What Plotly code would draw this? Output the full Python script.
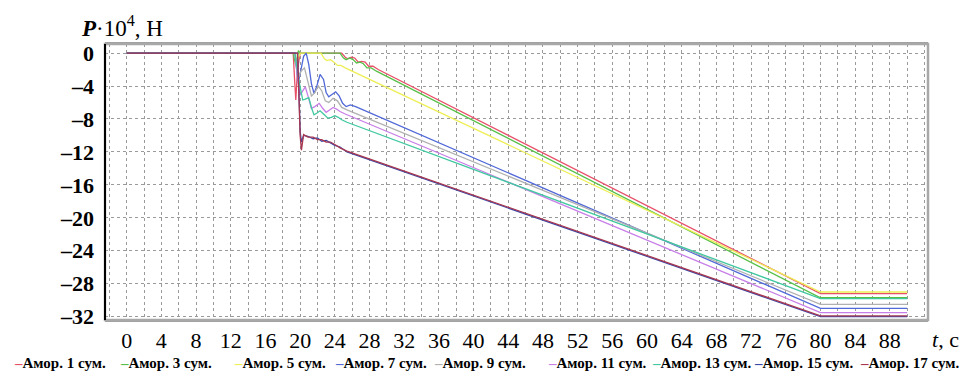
import plotly.graph_objects as go

# ---------------- data ----------------
names = ["Амор. 1 сум.", "Амор. 3 сум.", "Амор. 5 сум.", "Амор. 7 сум.", "Амор. 9 сум.",
         "Амор. 11 сум.", "Амор. 13 сум.", "Амор. 15 сум.", "Амор. 17 сум."]
colors = ["#e8506a", "#58c048", "#eeee55", "#5068d8", "#b0b0b0",
          "#c87ee8", "#40c8a0", "#3848a8", "#a83850"]

t1 = [0, 19.2, 19.35, 19.5, 19.7, 20.0, 24.8, 25.2, 25.5, 25.9, 26.3, 26.7, 27.1, 27.5, 27.9, 28.4, 29.0, 80, 90]
p1 = [0, 0, -3.0, -5.7, -2.0, 0, 0, -0.5, -0.7, -0.5, -0.6, -1.1, -1.0, -1.1, -1.6, -1.6, -2.0, -29.2, -29.2]

t3 = [0, 19.2, 19.5, 19.8, 20.0, 24.6, 25.0, 25.3, 25.7, 26.1, 26.5, 26.9, 27.3, 27.7, 28.2, 28.8, 80, 90]
p3 = [0, 0, -1.5, 0.3, 0, 0, -0.6, -0.8, -0.6, -0.8, -1.2, -1.1, -1.3, -1.8, -1.8, -2.2, -29.7, -29.7]

t5 = [0, 19.3, 19.6, 20.0, 22.4, 22.8, 23.1, 23.5, 23.9, 24.3, 24.7, 25.2, 80, 90]
p5 = [0, 0, -1.2, 0, 0, -0.7, -0.9, -0.8, -1.1, -1.5, -1.5, -1.8, -29.0, -29.0]

t7 = [0, 19.4, 19.6, 19.8, 20.1, 20.4, 20.7, 21.0, 21.3, 21.6, 21.9, 22.3, 22.7, 23.0, 23.3,
      23.7, 24.1, 24.5, 24.9, 25.3, 25.8, 26.4, 80, 90]
p7 = [0, 0, -2.0, -3.5, -2.0, -0.4, 0.0, -1.4, -3.7, -4.9, -4.1, -2.6, -3.2, -4.8, -5.3,
      -5.0, -4.7, -5.2, -6.1, -6.5, -6.3, -6.5, -31.0, -31.0]

t9 = [0, 19.4, 19.6, 19.8, 20.1, 20.5, 20.9, 21.3, 21.7, 22.1, 22.5, 22.9, 23.3, 23.8, 24.3, 24.8, 25.4, 80, 90]
p9 = [0, 0, -1.8, -3.0, -2.2, -1.8, -3.5, -5.2, -4.8, -4.0, -4.6, -5.8, -6.0, -5.5, -5.8, -6.6, -6.9, -30.5, -30.5]

t11 = [0, 19.4, 19.7, 20.0, 20.3, 20.6, 20.9, 21.3, 21.7, 22.2, 22.6, 23.0, 23.4, 23.8, 24.2, 24.6, 25.2, 80, 90]
p11 = [0, 0, -3.0, -5.1, -4.6, -4.1, -5.2, -6.7, -6.5, -6.1, -6.7, -7.2, -6.9, -6.6, -6.8, -7.1, -7.4, -31.5, -31.5]

t13 = [0, 19.4, 19.8, 20.3, 20.6, 21.0, 21.3, 21.6, 21.9, 22.3, 22.7, 23.2, 23.6, 24.0, 24.4, 24.8, 25.4, 80, 90]
p13 = [0, 0, -3.0, -5.7, -5.6, -5.4, -6.6, -7.5, -7.3, -7.0, -7.4, -7.9, -7.8, -7.6, -7.8, -8.1, -8.4, -29.8, -29.8]

t15 = [0, 19.7, 19.9, 20.0, 20.15, 20.4, 20.9, 21.5, 22.0, 22.5, 23.0, 23.5, 24.0, 24.6, 25.4, 80, 90]
p15 = [0, 0, -6.0, -9.5, -10.8, -10.0, -10.1, -10.4, -10.3, -10.7, -10.6, -10.9, -11.2, -11.4, -12.0, -32.0, -32.0]

t17 = [0, 19.7, 19.9, 20.0, 20.15, 20.4, 20.9, 21.5, 22.0, 22.5, 23.0, 23.5, 24.0, 24.6, 25.4, 80, 90]
p17 = [0, 0, -6.5, -10.0, -11.8, -9.9, -10.2, -10.2, -10.5, -10.5, -10.8, -10.8, -11.1, -11.5, -11.9, -31.9, -31.9]

series_t = [t1, t3, t5, t7, t9, t11, t13, t15, t17]
series_p = [p1, p3, p5, p7, p9, p11, p13, p15, p17]

x_ticks = list(range(0, 89, 4))
y_ticks = [0, -4, -8, -12, -16, -20, -24, -28, -32]
y_ticktext = ["0", "–4", "–8", "–12", "–16", "–20", "–24", "–28", "–32"]

# ---------------- figure ----------------
W, H = 971, 376
L, R, T, B = 105, 43, 44, 56
PW = W - L - R

fig = go.Figure()
for t, p, c, n in zip(series_t, series_p, colors, names):
    fig.add_trace(go.Scatter(x=t, y=p, mode="lines", name=n,
                             line=dict(color=c, width=1.3), showlegend=False))

serif = "Liberation Serif, Times New Roman, serif"

fig.update_layout(
    width=W, height=H,
    margin=dict(l=L, r=R, t=T, b=B),
    paper_bgcolor="white", plot_bgcolor="white",
    font=dict(family=serif, color="black"),
    xaxis=dict(range=[-2.5, 92.4], tickvals=x_ticks, ticks="",
               tickfont=dict(size=22, family=serif),
               showgrid=True, gridcolor="#9a9a9a", griddash="dot", gridwidth=1,
               minor=dict(tickvals=[v for v in range(-2, 93, 2)], showgrid=True,
                          gridcolor="#9a9a9a", griddash="dot", gridwidth=1),
               showline=True, linecolor="#a0a0a0", linewidth=2, mirror=True,
               zeroline=False),
    yaxis=dict(range=[-32.4, 1.1], tickvals=y_ticks, ticktext=y_ticktext, ticks="",
               ticklabelstandoff=10,
               tickfont=dict(size=22, family=serif, weight="bold"),
               showgrid=True, gridcolor="#9a9a9a", griddash="dot", gridwidth=1,
               showline=False, zeroline=False),
)

# frame: gray top/right/bottom, black left
fig.add_shape(type="rect", xref="paper", yref="paper", x0=0, x1=1, y0=0, y1=1,
              line=dict(color="#a8a8a8", width=2.5), layer="above")
fig.add_shape(type="line", xref="paper", yref="paper", x0=0, x1=0, y0=0, y1=1,
              line=dict(color="black", width=2), layer="above")

# axis titles
fig.add_annotation(xref="paper", yref="paper", x=-0.031, y=1.062, xanchor="left", yanchor="middle",
                   text="<b><i>P</i></b>·10<sup>4</sup>, Н", showarrow=False,
                   font=dict(size=23, family=serif, color="black"))
fig.add_annotation(xref="paper", yref="paper", x=(930 - L) / PW, y=-0.072, xanchor="left", yanchor="middle",
                   text="<i>t</i>, с", showarrow=False,
                   font=dict(size=22, family=serif, color="black"))

# legend row (as annotations)
leg_x = [12, 118, 232, 333, 432, 546, 650, 752, 858]
for px, c, n in zip(leg_x, colors, names):
    fig.add_annotation(xref="paper", yref="paper", x=(px - L) / PW, y=-0.156,
                       xanchor="left", yanchor="middle", showarrow=False,
                       text=f"<span style='color:{c}'>–</span>{n}",
                       font=dict(size=15, family=serif, color="black", weight="bold"))

fig.write_html("out.html")
